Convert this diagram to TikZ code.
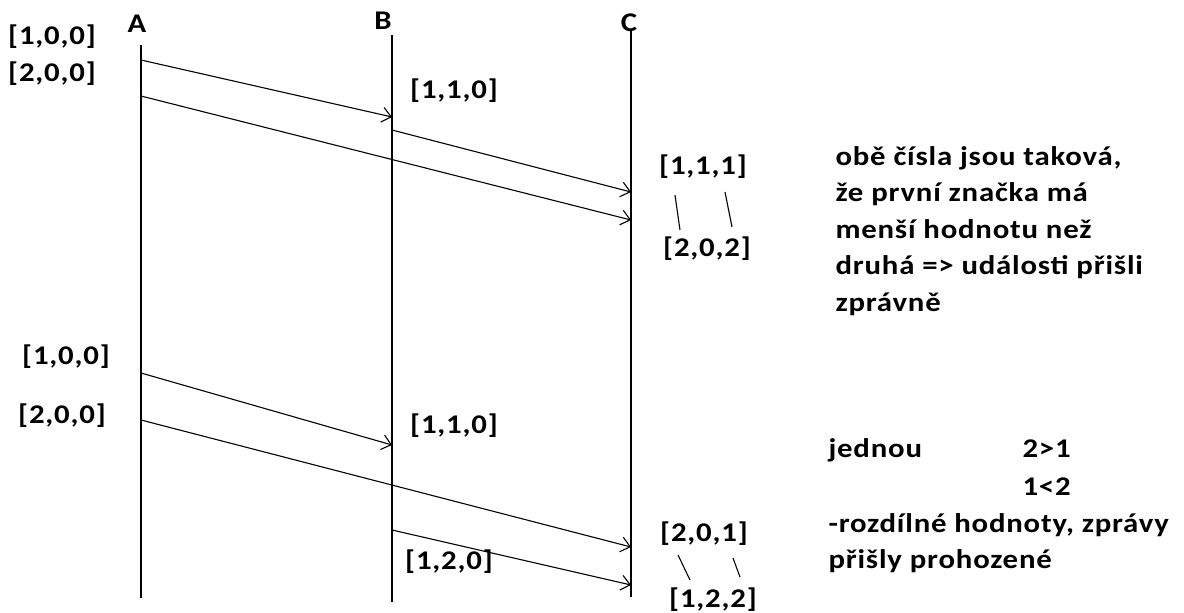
\documentclass[tikz,border=0pt]{standalone}
\usepackage{fontspec}
\setmainfont{Carlito}[FakeStretch=1.14, LetterSpace=3]
\usetikzlibrary{arrows.meta}

\begin{document}
\begin{tikzpicture}[x=1pt, y=-1pt, line width=1.1pt,
  >={Straight Barb[length=9pt,width=15pt]},
  every node/.style={inner sep=0pt, font=\fontsize{27}{37}\selectfont\bfseries},
  note/.style={anchor=base west}]
  \useasboundingbox (0,0) rectangle (1184,613);
  % Processes and their lifelines.
  \node (A) at (137,24) {A};
  \node (B) at (383,21) {B};
  \node (C) at (629,23) {C};
  \coordinate (Atop) at (141,45);  \coordinate (Abot) at (141,598);
  \coordinate (Btop) at (392,35);  \coordinate (Bbot) at (392,602);
  \coordinate (Ctop) at (631,30);  \coordinate (Cbot) at (631,597);
  \draw (Atop) -- (Abot);
  \draw (Btop) -- (Bbot);
  \draw (Ctop) -- (Cbot);
  % First case: messages arrive in order.
  \node (va1) at (52,37) {[1,0,0]};
  \node (va2) at (52,74) {[2,0,0]};
  \node (vb1) at (454,91) {[1,1,0]};
  \node (vc1) at (703,167) {[1,1,1]};
  \node (vc2) at (707,249) {[2,0,2]};
  \coordinate (a1) at (141,60);  \coordinate (b1) at (392,117);
  \coordinate (a2) at (141,96);  \coordinate (c2) at (631,220);
  \coordinate (b3) at (392,130); \coordinate (c3) at (631,192);
  \draw[->] (a1) -- (b1);
  \draw[->] (a2) -- (c2);
  \draw[->] (b3) -- (c3);
  \coordinate (t1) at (675,195); \coordinate (t2) at (680,230);
  \coordinate (t3) at (725,192); \coordinate (t4) at (732,227);
  \draw (t1) -- (t2);
  \draw (t3) -- (t4);
  \foreach \txt [count=\i] in {{obě čísla jsou taková,}, {že první značka má},
      {menší hodnotu než}, {druhá => události přišli}, {zprávně}}
    \node[note] (n\i) at (835,128.5+36.5*\i) {\txt};
  % Second case: messages swapped.
  \node (wa1) at (66,357) {[1,0,0]};
  \node (wa2) at (62,416) {[2,0,0]};
  \node (wb1) at (454,426) {[1,1,0]};
  \node (wb2) at (449,562) {[1,2,0]};
  \node (wc1) at (704,534) {[2,0,1]};
  \node (wc2) at (713,600) {[1,2,2]};
  \coordinate (a4) at (141,373); \coordinate (b4) at (392,445);
  \coordinate (a5) at (141,420); \coordinate (c5) at (631,547);
  \coordinate (b6) at (392,530); \coordinate (c6) at (631,585);
  \draw[->] (a4) -- (b4);
  \draw[->] (a5) -- (c5);
  \draw[->] (b6) -- (c6);
  \coordinate (s1) at (678,555); \coordinate (s2) at (690,580);
  \coordinate (s3) at (733,558); \coordinate (s4) at (740,577);
  \draw (s1) -- (s2);
  \draw (s3) -- (s4);
  \node[note] (m1) at (828,457) {jednou};
  \node[note] (m2) at (1022,457) {2>1};
  \node[note] (m3) at (1022,495) {1<2};
  \node[note] (m4) at (828,532) {-rozdílné hodnoty, zprávy};
  \node[note] (m5) at (828,568) {přišly prohozené};
\end{tikzpicture}
\end{document}
